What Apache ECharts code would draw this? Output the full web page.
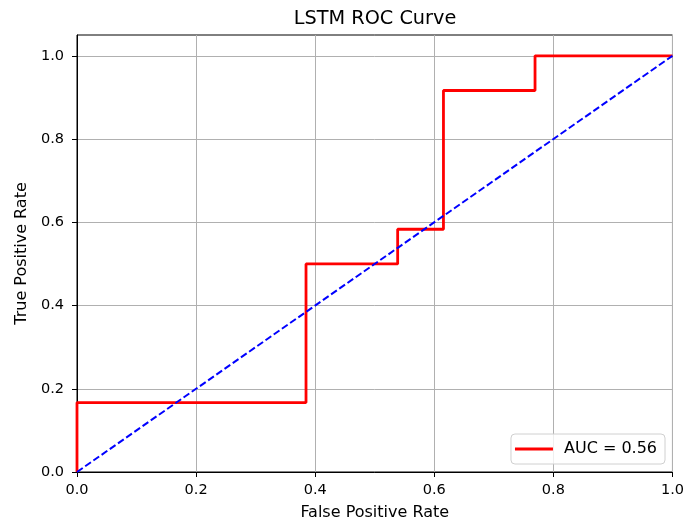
<!DOCTYPE html>
<html>
<head>
<meta charset="utf-8">
<script src="https://cdn.jsdelivr.net/npm/echarts@6/dist/echarts.min.js"></script>
<style>html,body{margin:0;padding:0;background:#fff;}#c{width:687px;height:526px;}</style>
</head>
<body>
<div id="c"></div>
<script>
const fpr = [0, 0, 0.3846, 0.3846, 0.5385, 0.5385, 0.6154, 0.6154, 0.7692, 0.7692, 1.0];
const tpr = [0, 0.1667, 0.1667, 0.5, 0.5, 0.5833, 0.5833, 0.9167, 0.9167, 1.0, 1.0];
const diagX = [0, 1];
const diagY = [0, 1];
const tickValues = [0, 0.2, 0.4, 0.6, 0.8, 1.0];
const title = 'LSTM ROC Curve';
const rocLabel = 'AUC = 0.56';

const font = 'DejaVu Sans';
const chart = echarts.init(document.getElementById('c'), null, {renderer: 'canvas'});
const axisCommon = {
  type: 'value',
  axisLine: {show: true, onZero: false, lineStyle: {color: '#000', width: 1}},
  axisTick: {show: true, inside: false, length: 5, lineStyle: {color: '#000', width: 1}, customValues: tickValues},
  axisLabel: {color: '#000', fontSize: 14.5, fontFamily: font, formatter: v => v.toFixed(1), customValues: tickValues},
  splitLine: {show: true, lineStyle: {color: '#b0b0b0', width: 1}},
  nameLocation: 'middle',
  nameTextStyle: {color: '#000', fontSize: 16, fontFamily: font}
};
chart.setOption({
  animation: false,
  backgroundColor: '#fff',
  title: {text: title, left: 370, top: 4, textAlign: 'center',
    textStyle: {fontSize: 19.3, fontWeight: 'normal', color: '#000', fontFamily: font}},
  grid: {left: 77, right: 13, top: 35, bottom: 54, show: true, borderColor: '#000', borderWidth: 1, containLabel: false},
  xAxis: Object.assign({}, axisCommon, {min: 0, max: 1, interval: 0.2, name: 'False Positive Rate', nameGap: 33,
    axisLabel: Object.assign({}, axisCommon.axisLabel, {margin: 11})}),
  yAxis: Object.assign({}, axisCommon, {min: 0, max: 1.05, interval: 0.2, name: 'True Positive Rate', nameGap: 47,
    axisLabel: Object.assign({}, axisCommon.axisLabel, {margin: 13})}),
  legend: {
    data: [rocLabel], right: 22, bottom: 62, orient: 'vertical',
    icon: 'rect', itemWidth: 38, itemHeight: 3, itemGap: 8,
    padding: [7, 8, 7, 4],
    borderColor: '#d0d0d0', borderWidth: 1, borderRadius: 4, backgroundColor: 'rgba(255,255,255,0.8)',
    textStyle: {fontSize: 16, color: '#000', fontFamily: font, padding: [0, 0, 0, 6]}
  },
  series: [
    {name: rocLabel, type: 'line', data: fpr.map((x, i) => [x, tpr[i]]), showSymbol: false, symbol: 'none',
      lineStyle: {color: '#ff0000', width: 2.8}, itemStyle: {color: '#ff0000'}, z: 3, clip: true},
    {name: 'diag', type: 'line', data: diagX.map((x, i) => [x, diagY[i]]), showSymbol: false, symbol: 'none',
      lineStyle: {color: '#0000ff', width: 2, type: [7, 3]}, itemStyle: {color: '#0000ff'}, z: 4}
  ]
});
</script>
</body>
</html>
